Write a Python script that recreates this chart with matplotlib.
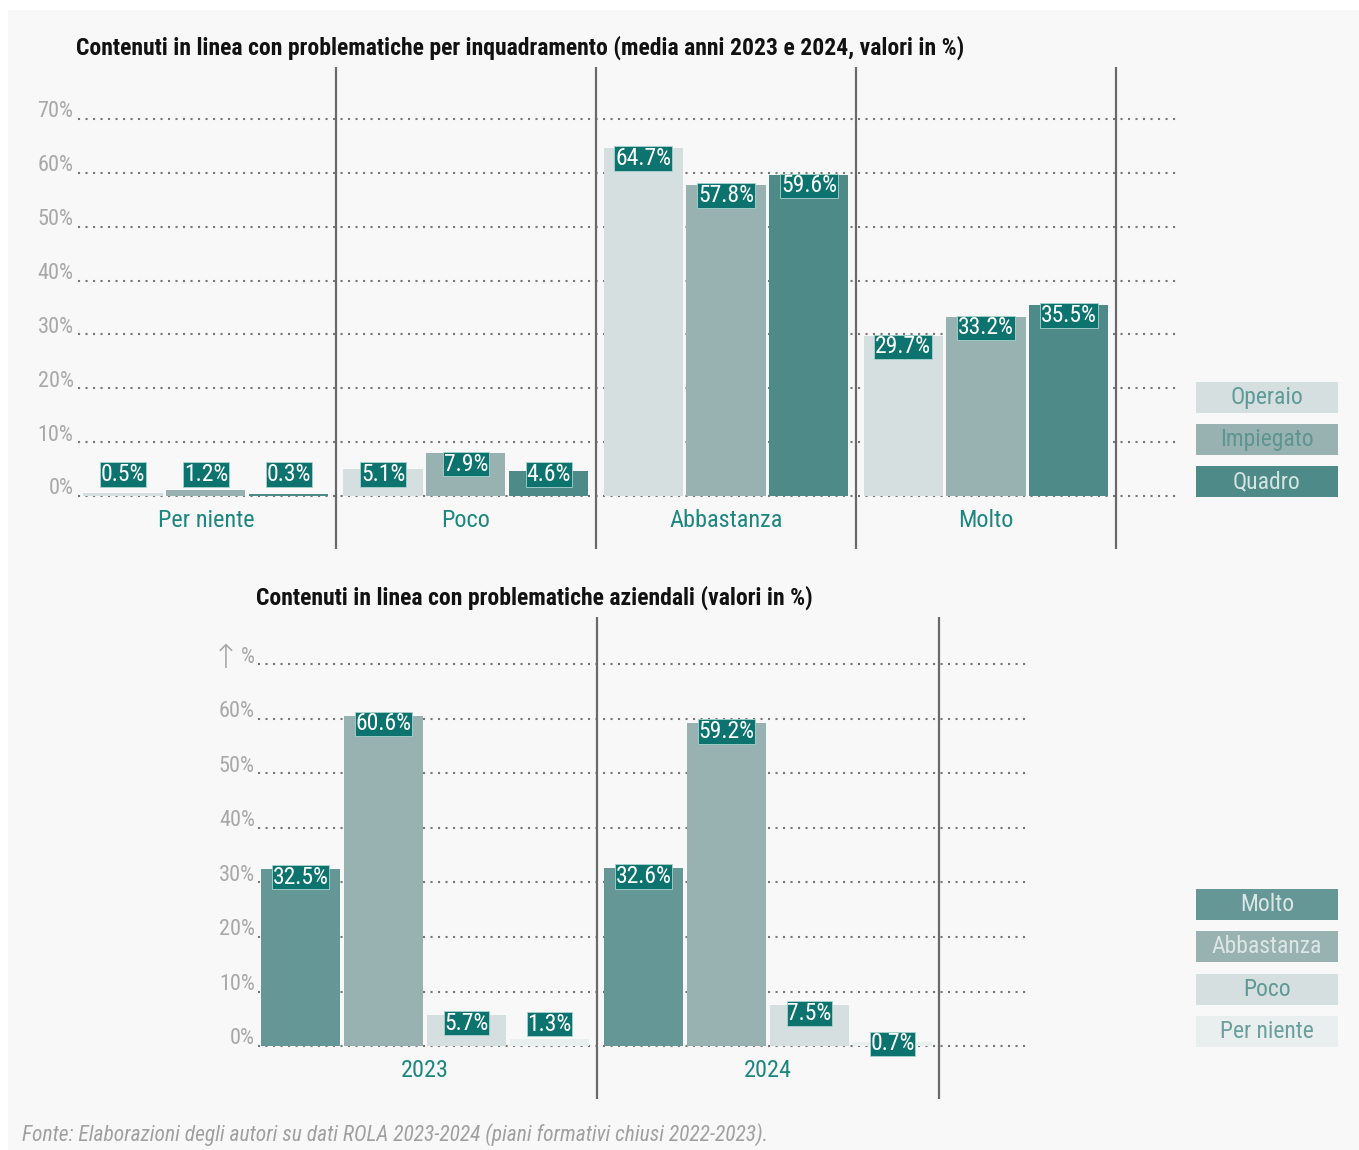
import matplotlib
matplotlib.use("Agg")
import matplotlib.pyplot as plt
from matplotlib import font_manager
from matplotlib.patches import Rectangle

# ---- data -------------------------------------------------------------
top_categories = ["Per niente", "Poco", "Abbastanza", "Molto"]
top_series = ["Operaio", "Impiegato", "Quadro"]
operaio = [0.5, 5.1, 64.7, 29.7]
impiegato = [1.2, 7.9, 57.8, 33.2]
quadro = [0.3, 4.6, 59.6, 35.5]

bottom_years = ["2023", "2024"]
bottom_series = ["Molto", "Abbastanza", "Poco", "Per niente"]
molto = [32.5, 32.6]
abbastanza = [60.6, 59.2]
poco = [5.7, 7.5]
per_niente = [1.3, 0.7]

y_ticks = [0, 10, 20, 30, 40, 50, 60, 70]

title_top = "Contenuti in linea con problematiche per inquadramento (media anni 2023 e 2024, valori in %)"
title_bottom = "Contenuti in linea con problematiche aziendali (valori in %)"
source = "Fonte: Elaborazioni degli autori su dati ROLA 2023-2024 (piani formativi chiusi 2022-2023)."

# ---- style ------------------------------------------------------------
W, H = 1359, 1150
installed = {f.name for f in font_manager.fontManager.ttflist}
FONT = "Roboto"
for cand in ["Roboto Condensed", "Liberation Sans Narrow", "Roboto"]:
    if cand in installed:
        FONT = cand
        break
plt.rcParams["font.family"] = [FONT, "DejaVu Sans"]

LABEL_BG = "#0c736f"
TEAL_TXT = "#1c8680"
TICK_TXT = "#a8a8a8"
GRID_C = "#777777"
SEP_C = "#6a6a6a"
top_colors = ["#d6dfe0", "#98b2b1", "#4e8a87"]
top_leg_txt = ["#5e9a97", "#5e9491", "#d3e4e2"]
bot_colors = ["#669797", "#98b2b1", "#d6dfe0", "#e9eeee"]
bot_leg_txt = ["#dbe6e5", "#dce6e5", "#5f9996", "#6aa09d"]


def frac(l, t, r, b):
    return [l / W, 1 - b / H, (r - l) / W, (b - t) / H]


fig = plt.figure(figsize=(W / 100, H / 100), dpi=100, facecolor="white")
fig.patches.append(Rectangle((8 / W, 0), 1 - 8 / W, 1 - 10 / H, transform=fig.transFigure,
                             facecolor="#f8f8f8", edgecolor="none", zorder=-10))


def setup(ax, ylim, xlim, n_groups, tick_labels):
    ax.set_xlim(*xlim)
    ax.set_ylim(*ylim)
    ax.axis("off")
    for yv in y_ticks:
        ax.plot(xlim, [yv, yv], color=GRID_C, lw=1.5, ls=(0, (1, 2.6)), zorder=1,
                solid_capstyle="butt")
    for k, lab in enumerate(tick_labels):
        ax.text(-0.004, y_ticks[k] + 0.3, lab, transform=ax.get_yaxis_transform(),
                ha="right", va="baseline", fontsize=16, color=TICK_TXT)
    for g in range(n_groups):
        ax.axvline(g + 0.5, color=SEP_C, lw=1.6, zorder=3)


def value_label(ax, x, y, v):
    ax.text(x, y, f"{v}%", ha="center", va="center", fontsize=17, color="white", zorder=5,
            bbox=dict(boxstyle="square,pad=0.03", facecolor=LABEL_BG, edgecolor="#a9d3cf", lw=0.6))


# ---- top chart --------------------------------------------------------
ax1 = fig.add_axes(frac(78, 67, 1180, 549))
setup(ax1, (-9.84, 79.65), (-0.492, 3.746), 4, [f"{t}%" for t in y_ticks])
top_values = [operaio, impiegato, quadro]
for j, vals in enumerate(top_values):
    for i, v in enumerate(vals):
        x = i + (j - 1) * 0.319
        ax1.bar(x, v, width=0.304, color=top_colors[j], zorder=2)
        value_label(ax1, x, max(v - 2.0, 4.0), v)
for i, cat in enumerate(top_categories):
    ax1.text(i, -4.6, cat, ha="center", va="center", fontsize=17.5, color=TEAL_TXT)

# ---- bottom chart -----------------------------------------------------
ax2 = fig.add_axes(frac(258, 617, 1030, 1099))
bot_tick_labels = [f"{t}%" for t in y_ticks[:-1]] + ["%"]
setup(ax2, (-9.72, 78.7), (-0.487, 1.764), 2, bot_tick_labels)
ax2.text(-0.024, y_ticks[-1] - 0.6, "\u2191", transform=ax2.get_yaxis_transform(),
         ha="right", va="baseline", fontsize=24, color=TICK_TXT, fontweight="light")
bot_values = [molto, abbastanza, poco, per_niente]
for j, vals in enumerate(bot_values):
    for i, v in enumerate(vals):
        x = i + (j - 1.5) * 0.242
        ax2.bar(x, v, width=0.230, color=bot_colors[j], zorder=2)
        ly = max(v - 1.5, 4.0)
        if v < 1:
            ly = 0.4
        value_label(ax2, x, ly, v)
for i, yr in enumerate(bottom_years):
    ax2.text(i, -4.5, yr, ha="center", va="center", fontsize=17.5, color=TEAL_TXT)

# ---- legends ----------------------------------------------------------
def legend_box(top_px, label, face, txt):
    l, r = 1196, 1338
    fig.patches.append(Rectangle((l / W, 1 - (top_px + 31) / H), (r - l) / W, 31 / H,
                                 transform=fig.transFigure, facecolor=face, edgecolor="none"))
    fig.text((l + r) / 2 / W, 1 - (top_px + 15.5) / H, label, ha="center", va="center",
             fontsize=17, color=txt)


for k, (lab, tops) in enumerate(zip(top_series, [382, 424, 466])):
    legend_box(tops, lab, top_colors[k], top_leg_txt[k])
for k, (lab, tops) in enumerate(zip(bottom_series, [889, 931, 974, 1016])):
    legend_box(tops, lab, bot_colors[k], bot_leg_txt[k])

# ---- titles and source ------------------------------------------------
fig.text(76 / W, 1 - 48 / H, title_top, ha="left", va="center", fontsize=17,
         fontweight="bold", color="#111111")
fig.text(256 / W, 1 - 598 / H, title_bottom, ha="left", va="center", fontsize=17,
         fontweight="bold", color="#111111")
fig.text(22 / W, 1 - 1135 / H, source, ha="left", va="center", fontsize=15.5,
         style="italic", color="#a0a0a0")

fig.savefig("out.png", dpi=100, facecolor="white")
